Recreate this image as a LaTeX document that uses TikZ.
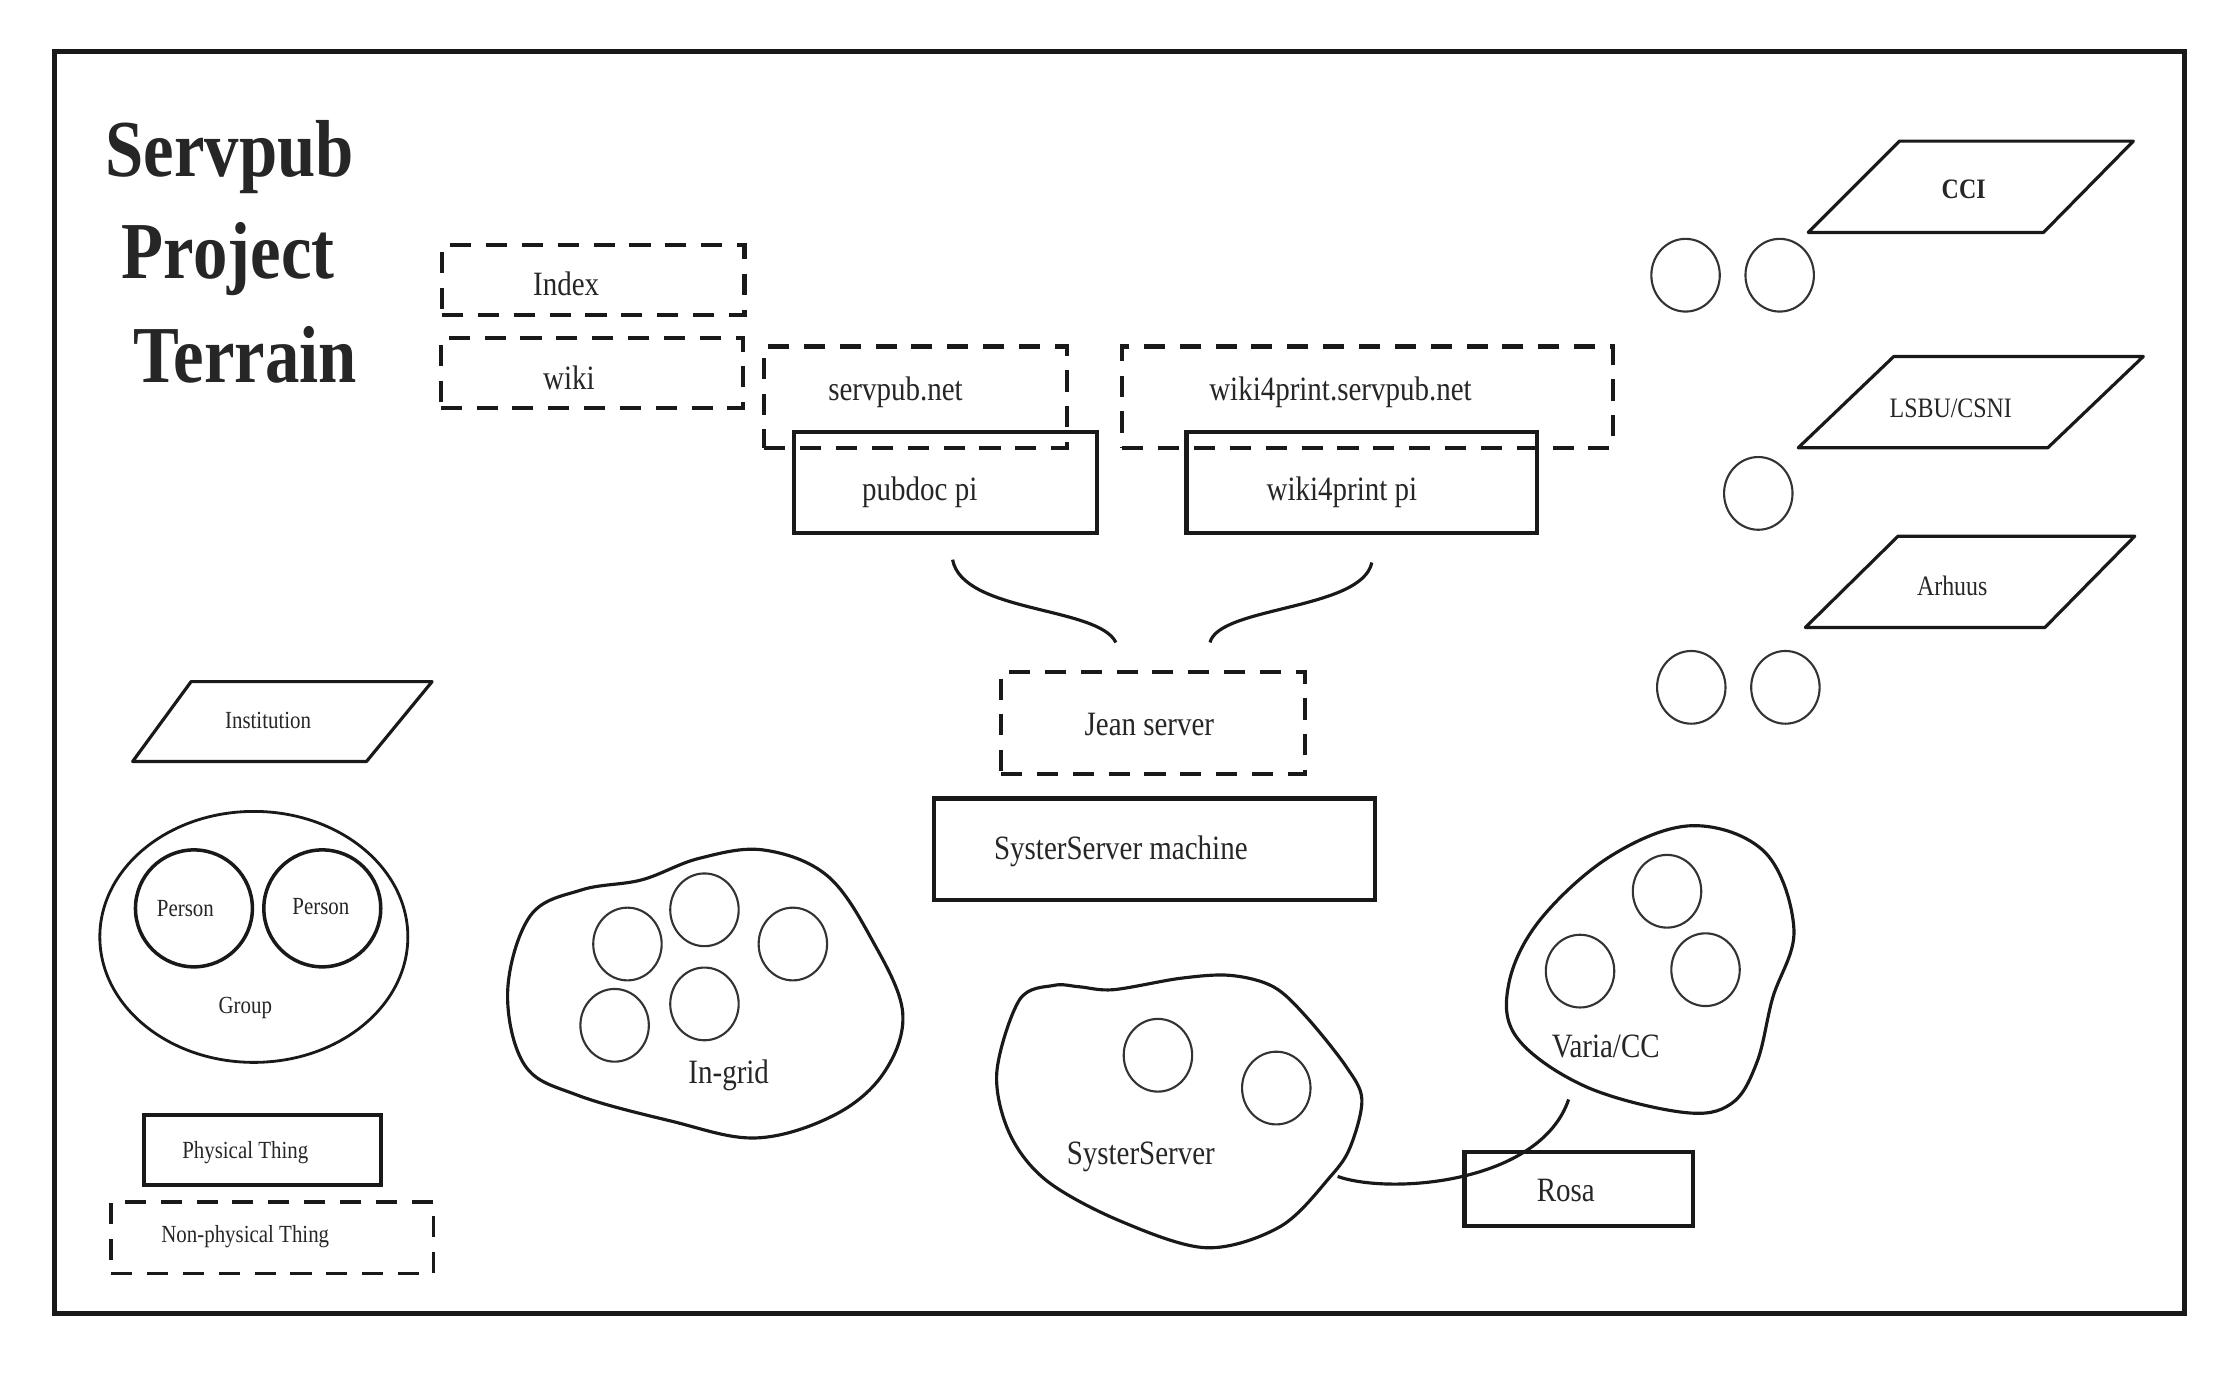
\documentclass[tikz,border=0pt]{standalone}
\usepackage{fontspec}
\setmainfont{Liberation Serif}[FakeStretch=0.85]
\usetikzlibrary{shapes.geometric, fit, calc}
\newcommand{\pxu}{0.4057pt}
\tikzset{
  physbox/.style={
    rectangle, draw=black!90, line width=1.2pt, inner sep=0pt
  },
  nonphysbox/.style={
    physbox, dash pattern=on 6pt off 4.2pt
  },
  institution/.style={draw=black!90, line width=0.9pt, line join=round},
  blob/.style={draw=black!90, line width=0.9pt},
  member/.style={
    ellipse, draw=black!80, line width=0.6pt, inner sep=0pt,
    minimum width=48*\pxu, minimum height=51*\pxu
  },
  person/.style={
    ellipse, draw=black!90, line width=1pt, inner sep=0pt,
    minimum width=82*\pxu, minimum height=82*\pxu
  },
  link/.style={draw=black!90, line width=0.9pt},
  lbl/.style={inner sep=0pt, text=black!85, font=\fontsize{9.7}{11}\selectfont},
  instlbl/.style={lbl, font=\fontsize{8}{10}\selectfont},
  keylbl/.style={lbl, font=\fontsize{7}{9}\selectfont},
  titlelbl/.style={lbl, anchor=base, font=\fontsize{23}{26}\selectfont\bfseries}
}

\begin{document}
\begin{tikzpicture}[x=\pxu, y=-\pxu]
  \useasboundingbox (0,0) rectangle (1568,964);
  \draw[line width=1.4pt, black!90] (38,36) rectangle (1532,921);

  % title
  \node[titlelbl] (title1) at (161,124) {Servpub};
  \node[titlelbl] (title2) at (160,195) {Project};
  \node[titlelbl] (title3) at (172,268) {Terrain};

  % sites
  \node[nonphysbox, fit={(310,172) (522,221)}] (index) {};
  \node[lbl] (indexlbl) at (397,199) {Index};
  \node[nonphysbox, fit={(309,237) (521,286)}] (wiki) {};
  \node[lbl] (wikilbl) at (399,265) {wiki};
  \node[nonphysbox, fit={(536,243) (748,314)}] (servpubnet) {};
  \node[lbl] (servpubnetlbl) at (628,275) {servpub.net};
  \node[nonphysbox, fit={(787,243) (1131,314)}] (wikinet) {};
  \node[lbl] (wikinetlbl) at (940,275) {wiki4print.servpub.net};

  % machines
  \node[physbox, fit={(557,303) (769,374)}] (pubdoc) {};
  \node[lbl] (pubdoclbl) at (645,345) {pubdoc pi};
  \node[physbox, fit={(832,303) (1078,374)}] (wikipi) {};
  \node[lbl] (wikipilbl) at (941,345) {wiki4print pi};
  \node[nonphysbox, fit={(702,471) (915,543)}] (jean) {};
  \node[lbl] (jeanlbl) at (806,508) {Jean server};
  \node[physbox, fit={(655,560) (964,631)}] (machine) {};
  \node[lbl] (machinelbl) at (786,597) {SysterServer machine};
  \node[physbox, fit={(1027,808) (1187,860)}] (rosa) {};
  \node[lbl] (rosalbl) at (1098,835) {Rosa};

  \coordinate (pubdoctail) at ($(pubdoc.south)+(5,17)$);
  \coordinate (jeanleft) at ($(jean.north)+(-26,-19)$);
  \coordinate (wikipitail) at ($(wikipi.south)+(7,19)$);
  \coordinate (jeanright) at ($(jean.north)+(40,-19)$);
  \draw[link] (pubdoctail) .. controls (675,430) and (770,425) .. (jeanleft);
  \draw[link] (wikipitail) .. controls (955,428) and (855,425) .. (jeanright);

  % institutions
  \draw[institution] (1268,163) -- (1332,99) -- (1496,99) -- (1433,163) -- cycle;
  \node[instlbl, font=\fontsize{8}{10}\selectfont\bfseries] (cci) at (1377,133) {CCI};
  \draw[institution] (1261,314) -- (1328,250) -- (1503,250) -- (1436,314) -- cycle;
  \node[instlbl] (lsbu) at (1368,286) {LSBU/CSNI};
  \draw[institution] (1266,440) -- (1331,376) -- (1497,376) -- (1434,440) -- cycle;
  \node[instlbl] (arhuus) at (1369,411) {Arhuus};
  \node[member] (cci1) at (1182,193) {};
  \node[member] (cci2) at (1248,193) {};
  \node[member] (lsbu1) at (1233,346) {};
  \node[member] (arhuus1) at (1186,482) {};
  \node[member] (arhuus2) at (1252,482) {};

  % groups
  \draw[blob] plot[smooth cycle, tension=0.6] coordinates {
    (356,695) (372,642) (408,624) (450,617) (490,602) (535,596) (580,614)
    (612,660) (633,710) (620,752) (585,782) (530,798) (470,786) (405,768) (368,747)};
  \node[lbl] (ingrid) at (511,754) {In-grid};
  \node[member] (ingrid1) at (440,662) {};
  \node[member] (ingrid2) at (494,638) {};
  \node[member] (ingrid3) at (556,662) {};
  \node[member] (ingrid4) at (431,719) {};
  \node[member] (ingrid5) at (494,704) {};

  \draw[blob] plot[smooth cycle, tension=0.55] coordinates {
    (699,752) (715,701) (739,691) (757,692) (781,694) (828,686) (863,684)
    (893,692) (916,713) (944,748) (955,771) (947,804) (933,825) (898,860)
    (846,875) (785,856) (734,828) (708,795)};
  \node[lbl] (syster) at (800,811) {SysterServer};
  \node[member] (syster1) at (812,740) {};
  \node[member] (syster2) at (895,763) {};

  \draw[blob] plot[smooth cycle, tension=0.6] coordinates {
    (1187,579) (1238,598) (1258,652) (1243,700) (1232,745) (1214,774)
    (1180,780) (1112,762) (1064,728) (1058,690) (1080,645) (1130,600)};
  \node[lbl] (varia) at (1126,734) {Varia/CC};
  \node[member] (varia1) at (1169,625) {};
  \node[member] (varia2) at (1108,681) {};
  \node[member] (varia3) at (1196,680) {};

  \coordinate (systertail) at (938,825);
  \coordinate (variatail) at (1100,771);
  \draw[link] (systertail) .. controls (975,838) and (1080,830) .. (variatail);

  % key
  \draw[institution] (93,534) -- (134,478) -- (303,478) -- (257,534) -- cycle;
  \node[keylbl] (institutionlbl) at (188,505) {Institution};
  \node[ellipse, draw=black!90, line width=0.8pt, inner sep=0pt,
        minimum width=216*\pxu, minimum height=176*\pxu] (group) at (178,657) {};
  \node[person] (person1) at (136,637) {};
  \node[person] (person2) at (226,637) {};
  \node[keylbl] (person1lbl) at (130,637) {Person};
  \node[keylbl] (person2lbl) at (225,636) {Person};
  \node[keylbl] (grouplbl) at (172,707) {Group};
  \node[physbox, line width=1pt, fit={(101,782) (267,831)}] (physkey) {};
  \node[keylbl] (physkeylbl) at (172,808) {Physical Thing};
  \node[nonphysbox, line width=1pt, fit={(78,843) (304,893)}] (nonphyskey) {};
  \node[keylbl] (nonphyskeylbl) at (172,867) {Non-physical Thing};
\end{tikzpicture}
\end{document}
